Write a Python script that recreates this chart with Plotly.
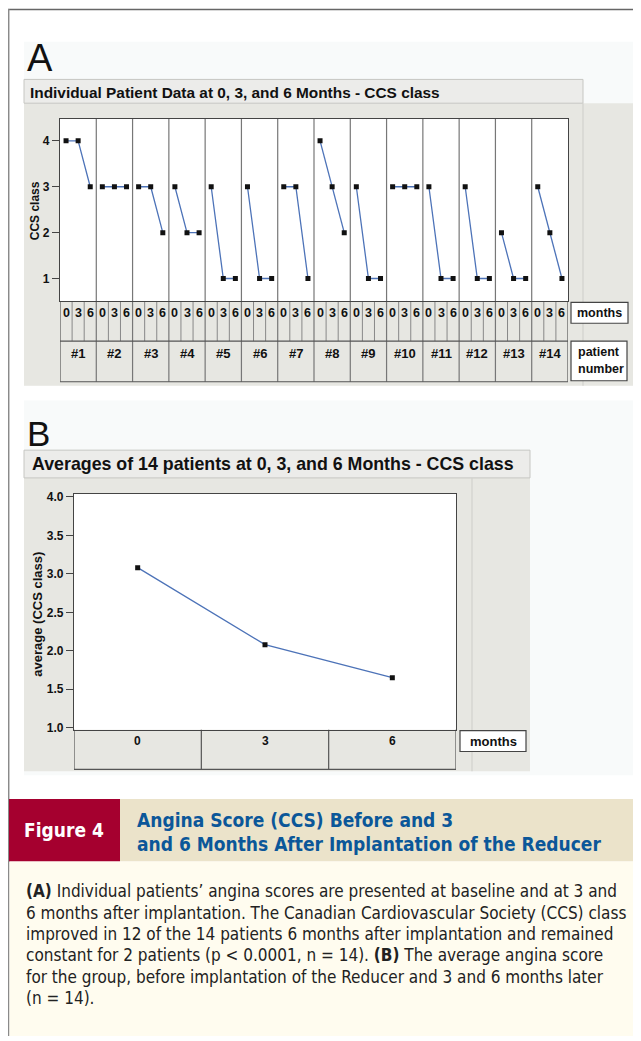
import plotly.graph_objects as go

# The page body has an 8px default margin; the figure is drawn from (8, 8).
OFF = 8
W, H = 641 - OFF, 1041 - OFF

# ---------------- data ----------------
patients = ["#1", "#2", "#3", "#4", "#5", "#6", "#7", "#8", "#9", "#10", "#11", "#12", "#13", "#14"]
months = ["0", "3", "6"]
ccs_0m = [4, 3, 3, 3, 3, 3, 3, 4, 3, 3, 3, 3, 2, 3]
ccs_3m = [4, 3, 3, 2, 1, 1, 3, 3, 1, 3, 1, 1, 1, 2]
ccs_6m = [3, 3, 2, 2, 1, 1, 1, 2, 1, 3, 1, 1, 1, 1]
avg_months = ["0", "3", "6"]
avg_ccs = [3.08, 2.08, 1.65]
ticks_a = [1, 2, 3, 4]
ticks_b = [1.0, 1.5, 2.0, 2.5, 3.0, 3.5, 4.0]


def px(x):
    return (x - OFF) / W


def py(y):
    return 1 - (y - OFF) / H


FONT = "Liberation Sans, Arial, sans-serif"
COND = "DejaVu Sans Condensed, Liberation Sans Narrow, Roboto, sans-serif"
GRAY = "#e7e7e2"
LIGHT = "#f8fafa"
LINEBLUE = "#4d73b8"

fig = go.Figure()

# ---------------- traces ----------------
xa, ya = [], []
n_m = len(months)
for k in range(len(patients)):
    vals = [ccs_0m[k], ccs_3m[k], ccs_6m[k]]
    for m in range(n_m):
        xa.append(k * n_m + m)
        ya.append(vals[m])
    xa.append(None)
    ya.append(None)

fig.add_trace(go.Scatter(x=xa, y=ya, mode="lines+markers", xaxis="x", yaxis="y",
                         line=dict(color=LINEBLUE, width=1.3),
                         marker=dict(symbol="square", size=5, color="#111"),
                         showlegend=False, hoverinfo="skip", connectgaps=False))

fig.add_trace(go.Scatter(x=list(range(len(avg_months))), y=avg_ccs, mode="lines+markers",
                         xaxis="x2", yaxis="y2",
                         line=dict(color=LINEBLUE, width=1.3),
                         marker=dict(symbol="square", size=5, color="#111"),
                         showlegend=False, hoverinfo="skip"))

nA = len(patients) * n_m
nB = len(avg_months)
shapes = []


def rect(x0, y0, x1, y1, fill, line=None, lw=1):
    shapes.append(dict(type="rect", xref="paper", yref="paper", x0=px(x0), x1=px(x1),
                       y0=py(y1), y1=py(y0), fillcolor=fill,
                       line=dict(color=line if line else "rgba(0,0,0,0)", width=lw if line else 0),
                       layer="below"))


def pline(x0, y0, x1, y1, color, w=1):
    shapes.append(dict(type="line", xref="paper", yref="paper", x0=px(x0), x1=px(x1),
                       y0=py(y0), y1=py(y1), line=dict(color=color, width=w), layer="below"))


def dline(xref, x0, y0, x1, y1, color, w=1):
    shapes.append(dict(type="line", xref=xref, yref="paper", x0=x0, x1=x1,
                       y0=py(y0), y1=py(y1), line=dict(color=color, width=w), layer="below"))


# outer frame
pline(8, 5.5, 641, 5.5, "#666", 1.5)
pline(8.7, 5, 8.7, 1041, "#8a8a8a", 1.5)

# panel A backgrounds
rect(24, 38, 633, 385, LIGHT)
rect(24, 100, 633, 385, GRAY)
rect(24, 76, 583, 100, "#ececea", "#c6c6c2", 1)
pline(583, 100, 583, 385, "#d2d2ce", 1.2)
rect(60, 116, 568, 300, "white")
for k in range(len(patients) - 1):
    dline("x", k * n_m + 2.5, 116, k * n_m + 2.5, 381, "#777", 1.2)
for k in range(len(patients)):
    for s in (0.5, 1.5):
        dline("x", k * n_m + s, 300, k * n_m + s, 340, "#888", 1)
dline("x", -0.5, 300, -0.5, 381, "#555", 1.2)
dline("x", nA - 0.5, 300, nA - 0.5, 381, "#555", 1.2)
dline("x", -0.5, 340, nA - 0.5, 340, "#555", 1.2)
dline("x", -0.5, 381, nA - 0.5, 381, "#555", 1.2)
rect(571, 301, 628, 322, "white", "#444", 1.2)
rect(571, 340, 627, 380, "white", "#444", 1.2)

# panel B backgrounds
rect(24, 400, 633, 778, LIGHT)
rect(24, 478, 530, 774, GRAY)
rect(24, 450, 530, 478, "#ececea", "#c6c6c2", 1)
pline(472, 478, 472, 774, "#d2d2ce", 1.2)
rect(74, 494, 456, 732, "white")
for s in (0.5, 1.5):
    dline("x2", s, 732, s, 772, "#555", 1.2)
dline("x2", -0.5, 732, -0.5, 772, "#555", 1.2)
dline("x2", nB - 0.5, 732, nB - 0.5, 772, "#555", 1.2)
dline("x2", -0.5, 772, nB - 0.5, 772, "#555", 1.2)
rect(460, 733, 526, 754, "white", "#444", 1.2)

# caption
rect(9, 802, 120, 865, "#a5002f")
rect(120, 802, 641, 865, "#ebe3ca")
rect(9.5, 865, 641, 1041, "#fffcef")

ann = []


def text(x, y, t, size, color="#111", bold=False, family=FONT, xanchor="center", xref="paper", angle=0):
    ann.append(dict(x=px(x) if xref == "paper" else x, y=py(y), xref=xref, yref="paper",
                    text=t, showarrow=False, xanchor=xanchor, yanchor="middle", textangle=angle,
                    font=dict(family=family, size=size, color=color,
                              weight="bold" if bold else "normal")))


text(25, 54, "A", 38, "#111", xanchor="left")
text(25, 433, "B", 35, "#111", xanchor="left")
text(28, 89, "Individual Patient Data at 0, 3, and 6 Months - CCS class", 15.4, bold=True, xanchor="left")
text(30, 464, "Averages of 14 patients at 0, 3, and 6 Months - CCS class", 17.8, bold=True, xanchor="left")

for k in range(len(patients)):
    for m in range(n_m):
        text(k * n_m + m, 312, months[m], 12.5, bold=True, xref="x")
    text(k * n_m + 1, 352, patients[k], 13, bold=True, xref="x")
text(599.5, 311.5, "months", 12.5, bold=True)
text(576, 351, "patient", 12.5, bold=True, xanchor="left")
text(576, 368.5, "number", 12.5, bold=True, xanchor="left")
text(35, 209, "CCS class", 12, bold=True, angle=-90)

for i, mth in enumerate(avg_months):
    text(i, 743, mth, 12, bold=True, xref="x2")
text(493, 744, "months", 13, bold=True)
text(38, 616, "average (CCS class)", 13, bold=True, angle=-90)

# caption texts
text(64, 833, "Figure 4", 19, "white", bold=True, family=COND)
text(135, 823, "Angina Score (CCS) Before and 3", 19, "#0b5799", bold=True, family=COND, xanchor="left")
text(135, 847, "and 6 Months After Implantation of the Reducer", 19, "#0b5799", bold=True, family=COND, xanchor="left")

caption = [
    "<b>(A)</b> Individual patients\u2019 angina scores are presented at baseline and at 3 and",
    "6 months after implantation. The Canadian Cardiovascular Society (CCS) class",
    "improved in 12 of the 14 patients 6 months after implantation and remained",
    "constant for 2 patients (p &lt; 0.0001, n = 14). <b>(B)</b> The average angina score",
    "for the group, before implantation of the Reducer and 3 and 6 months later",
    "(n = 14).",
]
for i, line in enumerate(caption):
    text(24, 895 + i * 21.5, line, 17, "#222", family=COND, xanchor="left")

axis_common = dict(showgrid=False, zeroline=False, showline=True, mirror=True,
                   linecolor="#444", linewidth=1.2, fixedrange=True)

fig.update_layout(
    width=W, height=H, margin=dict(l=0, r=0, t=0, b=0),
    paper_bgcolor="white", plot_bgcolor="rgba(0,0,0,0)",
    showlegend=False,
    xaxis=dict(domain=[px(60), px(568)], range=[-0.5, nA - 0.5], showticklabels=False,
               ticks="", anchor="y", **axis_common),
    yaxis=dict(domain=[py(300), py(116)], range=[0.5, 4.475], tickvals=ticks_a,
               ticktext=[str(v) for v in ticks_a], ticks="outside", ticklen=7,
               tickcolor="#444", tickfont=dict(family=FONT, size=12, color="#111", weight="bold"),
               anchor="x", **axis_common),
    xaxis2=dict(domain=[px(74), px(456)], range=[-0.5, nB - 0.5], showticklabels=False,
                ticks="", anchor="y2", **axis_common),
    yaxis2=dict(domain=[py(732), py(494)], range=[0.975, 4.04], tickvals=ticks_b,
                ticktext=["%.1f" % v for v in ticks_b], ticks="outside", ticklen=7,
                tickcolor="#444", tickfont=dict(family=FONT, size=12, color="#111", weight="bold"),
                anchor="x2", **axis_common),
    shapes=shapes,
    annotations=ann,
)

fig.write_html("out.html")
